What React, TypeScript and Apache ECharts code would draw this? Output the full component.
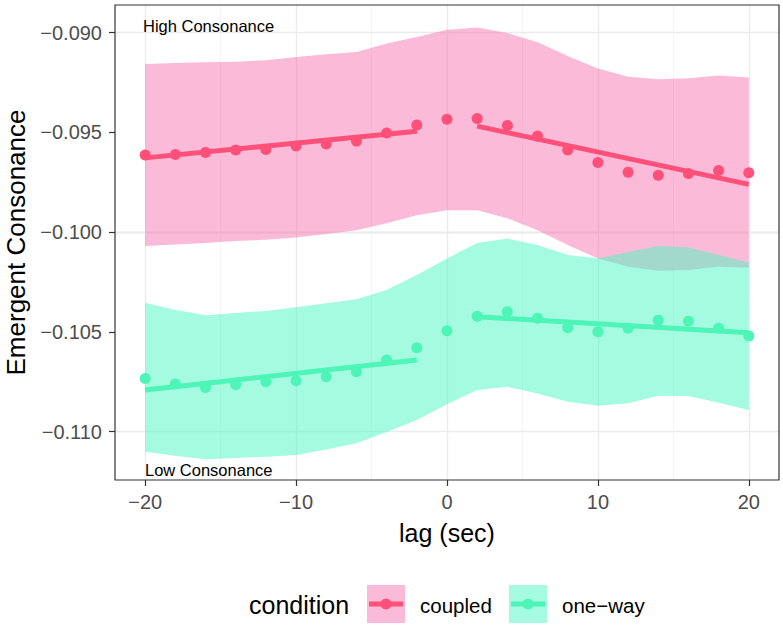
import React, { useEffect, useRef } from "react";
import * as echarts from "echarts";

const lags = [-20, -18, -16, -14, -12, -10, -8, -6, -4, -2, 0, 2, 4, 6, 8, 10, 12, 14, 16, 18, 20];

const coupledMean = [-0.09614, -0.09611, -0.09601, -0.09589, -0.09586, -0.09568, -0.09559, -0.09544, -0.09503, -0.09463, -0.09434, -0.09431, -0.09466, -0.09519, -0.09589, -0.09651, -0.097, -0.09715, -0.09706, -0.09691, -0.09703];
const coupledUpper = [-0.09157, -0.09153, -0.09149, -0.09146, -0.09139, -0.09122, -0.09109, -0.09097, -0.09055, -0.09022, -0.08986, -0.08975, -0.09002, -0.09049, -0.09118, -0.0918, -0.09222, -0.09234, -0.09229, -0.09215, -0.09225];
const coupledLower = [-0.10069, -0.10062, -0.10054, -0.10045, -0.10038, -0.10027, -0.1001, -0.0999, -0.09955, -0.09915, -0.0989, -0.0989, -0.09931, -0.0999, -0.10064, -0.10132, -0.10174, -0.10194, -0.1019, -0.10174, -0.10179];

const onewayMean = [-0.10733, -0.10761, -0.10778, -0.10763, -0.1075, -0.10745, -0.10725, -0.107, -0.10641, -0.10579, -0.10494, -0.10421, -0.10399, -0.10432, -0.10479, -0.10499, -0.10482, -0.10441, -0.10446, -0.10482, -0.10521];
const onewayUpper = [-0.10354, -0.1039, -0.10416, -0.10405, -0.10395, -0.10377, -0.10356, -0.10336, -0.1029, -0.10215, -0.10132, -0.10054, -0.10032, -0.10065, -0.10115, -0.10132, -0.10099, -0.10069, -0.10077, -0.10115, -0.10152];
const onewayLower = [-0.111, -0.11121, -0.11138, -0.11132, -0.11125, -0.11117, -0.11089, -0.11058, -0.11001, -0.10941, -0.10862, -0.10791, -0.10775, -0.10808, -0.1085, -0.1087, -0.10858, -0.1082, -0.10821, -0.10855, -0.10891];

// fitted line segments (before / after zero lag)
const coupledFitPre = [[-20, -0.09628], [-2, -0.09495]];
const coupledFitPost = [[2, -0.09469], [20, -0.09761]];
const onewayFitPre = [[-20, -0.10791], [-2, -0.10641]];
const onewayFitPost = [[2, -0.10424], [20, -0.10504]];

const xTicks = [-20, -10, 0, 10, 20];
const xMinor = [-15, -5, 5, 15];
const yTicks = [-0.11, -0.105, -0.1, -0.095, -0.09];
const yMinor = [-0.1075, -0.1025, -0.0975, -0.0925];

const conditions = ["coupled", "one\u2212way"];
const annotations = ["High Consonance", "Low Consonance"];

const PINK = "#FF5079";
const PINK_FILL = "rgba(247,104,168,0.45)";
const GREEN = "#4DF5B8";
const GREEN_FILL = "rgba(76,247,194,0.5)";
const FONT = "Liberation Sans, Arial, Helvetica, sans-serif";

const ribbon = (name: string, lower: number[], upper: number[], fill: string, z: number) => ({
  type: "custom",
  name,
  z,
  silent: true,
  data: lags.map((l, i) => [l, lower[i], upper[i]]),
  encode: { x: 0, y: [1, 2] },
  renderItem: (params: any, api: any) => {
    if (params.dataIndex !== 0) return null;
    const top = lags.map((l, i) => api.coord([l, upper[i]]));
    const bot = lags.map((l, i) => api.coord([l, lower[i]])).reverse();
    return {
      type: "polygon",
      shape: { points: top.concat(bot) },
      style: { fill, stroke: "none" },
    };
  },
});

const fitLine = (data: number[][], color: string) => ({
  type: "line",
  data,
  z: 12,
  symbol: "none",
  silent: true,
  lineStyle: { color, width: 5, cap: "butt" },
});

const points = (vals: number[], color: string) => ({
  type: "scatter",
  data: lags.map((l, i) => [l, vals[i]]),
  z: 13,
  symbolSize: 11,
  itemStyle: { color, opacity: 1 },
  silent: true,
});

const fmtX = (v: number) => (v < 0 ? "\u2212" : "") + Math.abs(Math.round(v));
const fmtY = (v: number) => (v < 0 ? "\u2212" : "") + Math.abs(v).toFixed(3);

export default function App() {
  const ref = useRef<HTMLDivElement>(null);
  useEffect(() => {
    document.body.style.margin = "0";
    const chart = echarts.init(ref.current!, undefined, { renderer: "svg" });
    const majorLine = { color: "#EBEBEB", width: 1.4, type: "solid" };
    const minorLine = { color: "#F2F2F2", width: 0.8, type: "solid" };
    const txt = (text: string, x: number, y: number, size: number) => ({
      type: "text",
      x,
      y,
      z: 20,
      style: { text, fontSize: size, fontFamily: FONT, fill: "#000", textVerticalAlign: "middle", verticalAlign: "middle" },
    });
    chart.setOption({
      animation: false,
      backgroundColor: "#ffffff",
      textStyle: { fontFamily: FONT },
      grid: {
        left: 115,
        right: 4,
        top: 5,
        bottom: 146,
        outerBoundsMode: "none",
        containLabel: false,
        show: true,
        borderColor: "#333333",
        borderWidth: 1.2,
        backgroundColor: "transparent",
        z: 30,
      },
      xAxis: {
        type: "value",
        min: -22,
        max: 22,
        name: "lag (sec)",
        nameLocation: "middle",
        nameGap: 40,
        nameTextStyle: { fontSize: 25, color: "#000", fontFamily: FONT },
        axisLine: { show: false, onZero: false },
        splitLine: { show: false },
        axisTick: { show: true, length: 6, customValues: xTicks, lineStyle: { color: "#333333", width: 1.2 } },
        axisLabel: {
          customValues: xTicks,
          fontSize: 20,
          color: "#4D4D4D",
          margin: 12,
          fontFamily: FONT,
          formatter: (v: number) => fmtX(v),
        },
      },
      yAxis: {
        type: "value",
        min: -0.11242,
        max: -0.08862,
        name: "Emergent Consonance",
        nameLocation: "middle",
        nameRotate: 90,
        nameGap: 84,
        nameTextStyle: { fontSize: 26, color: "#000", fontFamily: FONT },
        axisLine: { show: false, onZero: false },
        splitLine: { show: false },
        axisTick: { show: true, length: 6, customValues: yTicks, lineStyle: { color: "#333333", width: 1.2 } },
        axisLabel: {
          customValues: yTicks,
          fontSize: 20,
          color: "#4D4D4D",
          margin: 13,
          fontFamily: FONT,
          formatter: (v: number) => fmtY(v),
        },
      },
      series: [
        {
          type: "line",
          data: [],
          z: 0,
          silent: true,
          markLine: {
            z: 0,
            silent: true,
            symbol: ["none", "none"],
            label: { show: false },
            animation: false,
            data: [
              ...xMinor.map((v) => ({ xAxis: v, lineStyle: minorLine })),
              ...yMinor.map((v) => ({ yAxis: v, lineStyle: minorLine })),
              ...xTicks.map((v) => ({ xAxis: v, lineStyle: majorLine })),
              ...yTicks.map((v) => ({ yAxis: v, lineStyle: majorLine })),
            ],
          },
        },
        ribbon(conditions[0], coupledLower, coupledUpper, PINK_FILL, 10),
        ribbon(conditions[1], onewayLower, onewayUpper, GREEN_FILL, 11),
        fitLine(coupledFitPre, PINK),
        fitLine(coupledFitPost, PINK),
        fitLine(onewayFitPre, GREEN),
        fitLine(onewayFitPost, GREEN),
        points(coupledMean, PINK),
        points(onewayMean, GREEN),
      ],
      graphic: [
        txt(annotations[0], 143, 26, 16.5),
        txt(annotations[1], 145, 470, 16.5),
        txt("condition", 249, 605, 25),
        { type: "rect", shape: { x: 367, y: 585, width: 38, height: 38 }, style: { fill: PINK_FILL } },
        { type: "line", shape: { x1: 369, y1: 604, x2: 403, y2: 604 }, style: { stroke: PINK, lineWidth: 5 } },
        { type: "circle", shape: { cx: 386, cy: 604, r: 5.5 }, style: { fill: PINK } },
        txt(conditions[0], 420, 605, 20.5),
        { type: "rect", shape: { x: 509, y: 585, width: 38, height: 38 }, style: { fill: GREEN_FILL } },
        { type: "line", shape: { x1: 511, y1: 604, x2: 545, y2: 604 }, style: { stroke: GREEN, lineWidth: 5 } },
        { type: "circle", shape: { cx: 528, cy: 604, r: 5.5 }, style: { fill: GREEN } },
        txt(conditions[1], 562, 605, 20.5),
      ],
    });
    return () => chart.dispose();
  }, []);
  return <div ref={ref} style={{ width: 783, height: 626 }} />;
}
